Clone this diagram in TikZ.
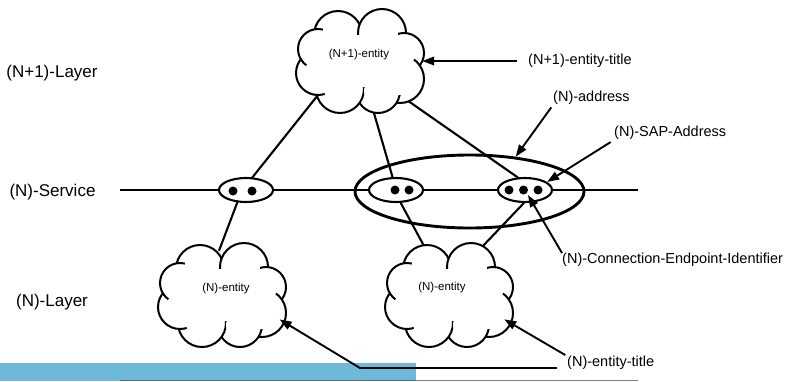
\documentclass[tikz,border=0pt]{standalone}
\usepackage{fontspec}
\setmainfont{Liberation Sans}
\usetikzlibrary{arrows.meta,shapes.geometric,calc}
\definecolor{barblue}{RGB}{110,185,218}
\tikzset{
  wire/.style={line width=2.1pt, line cap=round},
  pointer/.style={line width=1.9pt, -{Triangle[length=12pt,width=8.5pt]}},
  sapnode/.style={ellipse, draw, line width=2.1pt, fill=white, minimum width=54pt, minimum height=24pt, inner sep=0pt},
  cloudbox/.style={ellipse, minimum width=130pt, minimum height=104pt, inner sep=0pt},
  puffline/.style={line width=2pt, fill=white},
  layerlabel/.style={font=\fontsize{17}{20}\selectfont, inner sep=0pt},
  notelabel/.style={font=\fontsize{14.5}{17}\selectfont, inner sep=0pt, anchor=west},
  entitytext/.style={font=\fontsize{11.5}{14}\selectfont, inner sep=0pt},
  dot/.style={circle, fill=black, inner sep=0pt, minimum size=9pt},
}
% Puffy cloud outline around a cloudbox node: eight overlapping puffs
% (x/y offset and radius), each later puff hiding the earlier outlines,
% then the interior is cleared so that only short arc stubs remain.
\newcommand\puffset{-22/-26/24, 22/-28/24, 44/-8/20, 40/18/24,
  18/30/22, -20/28/24, -42/12/22, -42/-12/20}
\newcommand\drawpuffs[1]{%
  \begin{scope}[shift={(#1.center)}]
    \foreach \px/\py/\pr in \puffset
      \filldraw[puffline] (\px,\py) circle[radius=\pr pt];
    \foreach \px/\py/\pr in \puffset
      \fill[white] (\px,\py) circle[radius=\pr pt - 8pt];
    \fill[white] (0,0) ellipse[x radius=38pt, y radius=26pt];
  \end{scope}%
}
\begin{document}
\begin{tikzpicture}[x=1pt,y=-1pt]
\useasboundingbox (0,0) rectangle (789,381);

% page band at the foot
\fill[barblue] (0,363) rectangle (416,381);
\coordinate (ruleL) at (120,380.3);
\coordinate (ruleR) at (638,380.3);
\draw[line width=1.5pt, black!70, opacity=0.7] (ruleL) -- (ruleR);

% (N)-service line and the (N)-address ring
\coordinate (svcL) at (120,190);
\coordinate (svcR) at (638,190);
\draw[line width=2.4pt] (svcL) -- (svcR);
\node[ellipse, draw, line width=2.9pt, minimum width=229pt, minimum height=73pt, inner sep=0pt] (ring) at (469.5,191.5) {};

% service access points
\node[sapnode] (sapL) at (246,190) {};
\node[sapnode] (sapM) at (396,190) {};
\node[sapnode] (sapR) at (525,190) {};
\node[dot] (sapL-a) at (233,191) {};
\node[dot] (sapL-b) at (252,191) {};
\node[dot] (sapM-a) at (395,190) {};
\node[dot] (sapM-b) at (409,190) {};
\node[dot] (sapR-a) at (509,190) {};
\node[dot] (sapR-b) at (523.5,190) {};
\node[dot] (sapR-c) at (538,190) {};

% entity clouds (outline boxes first, so that connectors can use them)
\node[cloudbox] (top) at (360,61) {};
\node[cloudbox] (cl) at (222,295) {};
\node[cloudbox] (cr) at (449,295) {};

% connectors between entities and access points
\draw[wire, shorten <=-6pt] (top.220) -- (sapL.63);
\draw[wire, shorten <=-6pt] (top.285) -- (sapM.105);
\draw[wire, shorten <=-6pt] (top.320) -- (sapR.120);
\draw[wire, shorten >=-8pt] (sapL.235) -- (cl.90);
\draw[wire, shorten >=-7pt] (sapM.290) -- (cr.117);
\draw[wire, shorten >=-7pt] (sapR.265) -- (cr.56);

% cloud outlines
\drawpuffs{top}
\drawpuffs{cl}
\drawpuffs{cr}
\node[entitytext] (top-text) at (359,55) {(N+1)-entity};
\node[entitytext] (cl-text) at (226,289) {(N)-entity};
\node[entitytext] (cr-text) at (442,288) {(N)-entity};

% layer labels
\node[layerlabel] (lay1) at (52,73) {(N+1)-Layer};
\node[layerlabel] (lay2) at (52.5,192) {(N)-Service};
\node[layerlabel] (lay3) at (52,302) {(N)-Layer};

% annotations
\node[notelabel] (t1) at (528,61) {(N+1)-entity-title};
\node[notelabel] (addr) at (553,98) {(N)-address};
\node[notelabel] (sapa) at (614,133) {(N)-SAP-Address};
\node[notelabel] (cei) at (562,260) {(N)-Connection-Endpoint-Identifier};
\node[notelabel] (ntitle) at (567,363) {(N)-entity-title};

\draw[pointer, shorten <=11pt, shorten >=-3pt] (t1.west) -- (top.east);
\draw[pointer, shorten <=3pt] (addr.south west) -- (ring.37);
\draw[pointer, shorten <=4pt] (sapa.south west) -- (sapR.20);
\coordinate (ceitip) at ($(sapR)+(3,5)$);
\draw[pointer] (cei.north west) -- (ceitip);
\draw[pointer, shorten <=2pt, shorten >=-2pt] (ntitle.north west) -- (cr.336);
\coordinate (knee) at (360,368);
\draw[pointer, line join=round] ($(ntitle.west)+(-10,5)$) -- (knee) -- (cl.337);
\end{tikzpicture}
\end{document}
